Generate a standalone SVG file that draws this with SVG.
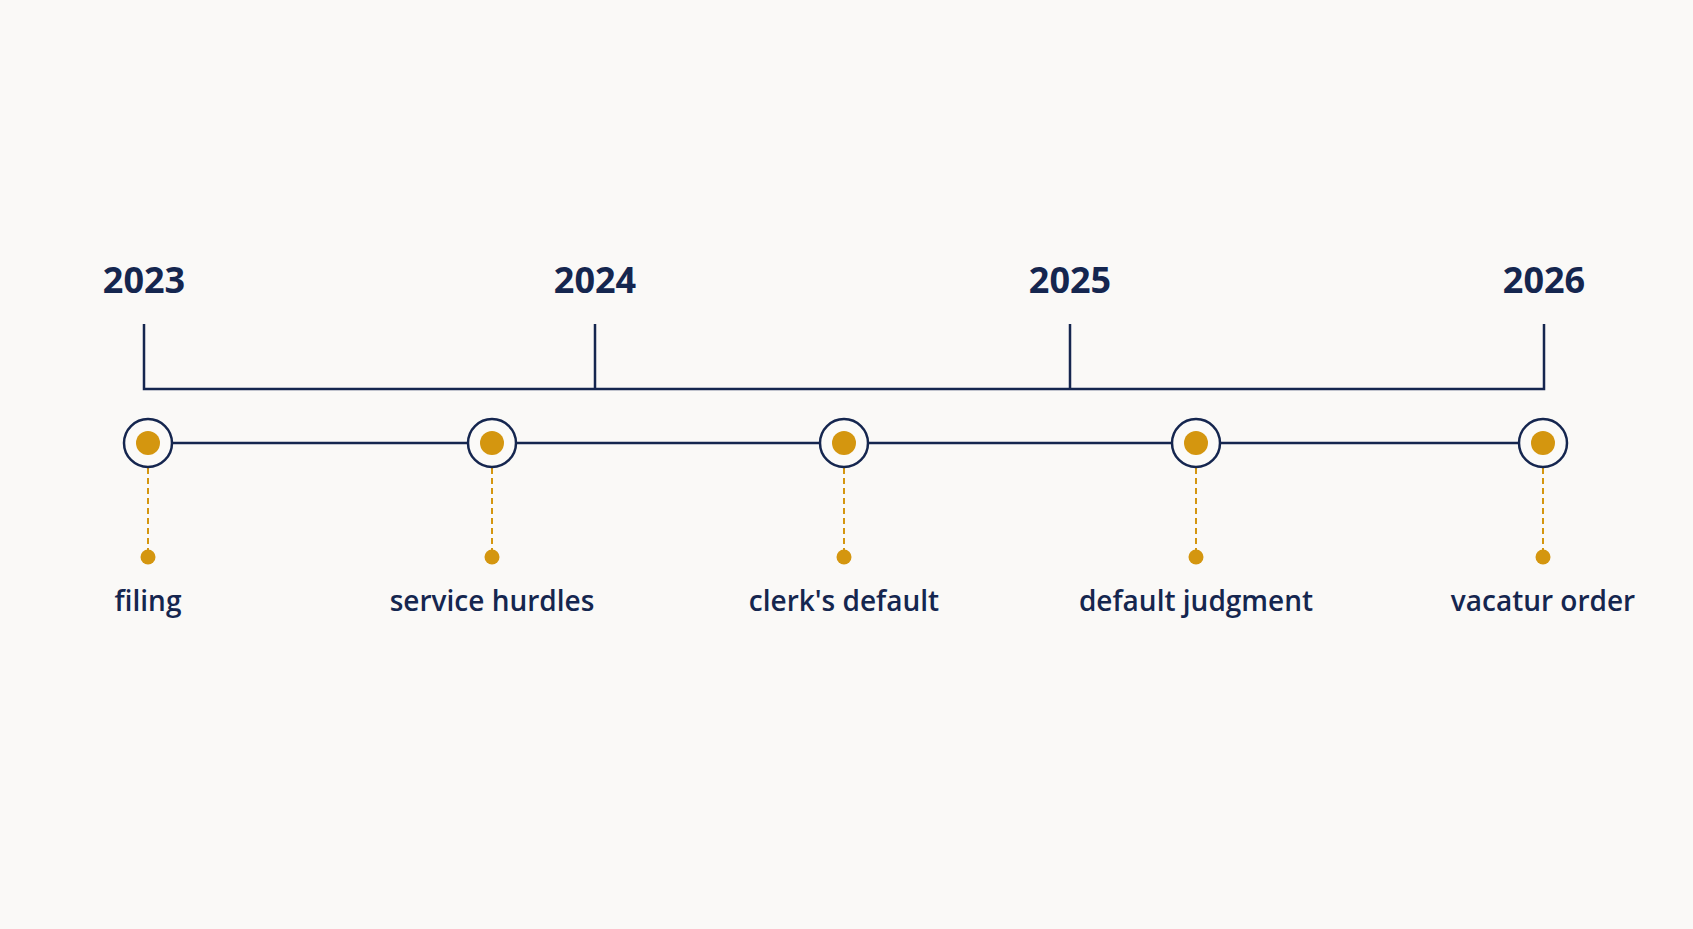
<svg xmlns="http://www.w3.org/2000/svg" width="1693" height="929" viewBox="0 0 1693 929">
<style>
.yr{font-family:"Open Sans","Liberation Sans",sans-serif;font-weight:700;font-size:36px;fill:#15264f;text-anchor:middle}
.lb{font-family:"Open Sans","Liberation Sans",sans-serif;font-weight:600;font-size:28px;fill:#15264f;text-anchor:middle}
.ln{stroke:#15264f;stroke-width:2.5;fill:none}
.ring{fill:#fbfaf8;stroke:#15264f;stroke-width:2.5}
.dot{fill:#d4960f}
.dash{stroke:#d4960f;stroke-width:2;stroke-dasharray:6 4}
</style>
<rect width="1693" height="929" fill="#faf9f7"/>
<g id="connectors">
<path class="ln" d="M144 324V389H1544V324M595 324V389M1070 324V389"/>
<line class="ln" x1="148" y1="443" x2="1543" y2="443"/>
<line class="dash" x1="148" y1="468" x2="148" y2="557"/>
<line class="dash" x1="492" y1="468" x2="492" y2="557"/>
<line class="dash" x1="844" y1="468" x2="844" y2="557"/>
<line class="dash" x1="1196" y1="468" x2="1196" y2="557"/>
<line class="dash" x1="1543" y1="468" x2="1543" y2="557"/>
</g>
<g id="years">
<text class="yr" x="144" y="293">2023</text>
<text class="yr" x="595" y="293">2024</text>
<text class="yr" x="1070" y="293">2025</text>
<text class="yr" x="1544" y="293">2026</text>
</g>
<g id="n1"><circle class="ring" cx="148" cy="443" r="24"/><circle class="dot" cx="148" cy="443" r="12"/><circle class="dot" cx="148" cy="557" r="7.5"/><text class="lb" x="148" y="611">filing</text></g>
<g id="n2"><circle class="ring" cx="492" cy="443" r="24"/><circle class="dot" cx="492" cy="443" r="12"/><circle class="dot" cx="492" cy="557" r="7.5"/><text class="lb" x="492" y="611">service hurdles</text></g>
<g id="n3"><circle class="ring" cx="844" cy="443" r="24"/><circle class="dot" cx="844" cy="443" r="12"/><circle class="dot" cx="844" cy="557" r="7.5"/><text class="lb" x="844" y="611">clerk's default</text></g>
<g id="n4"><circle class="ring" cx="1196" cy="443" r="24"/><circle class="dot" cx="1196" cy="443" r="12"/><circle class="dot" cx="1196" cy="557" r="7.5"/><text class="lb" x="1196" y="611">default judgment</text></g>
<g id="n5"><circle class="ring" cx="1543" cy="443" r="24"/><circle class="dot" cx="1543" cy="443" r="12"/><circle class="dot" cx="1543" cy="557" r="7.5"/><text class="lb" x="1543" y="611">vacatur order</text></g>
</svg>
